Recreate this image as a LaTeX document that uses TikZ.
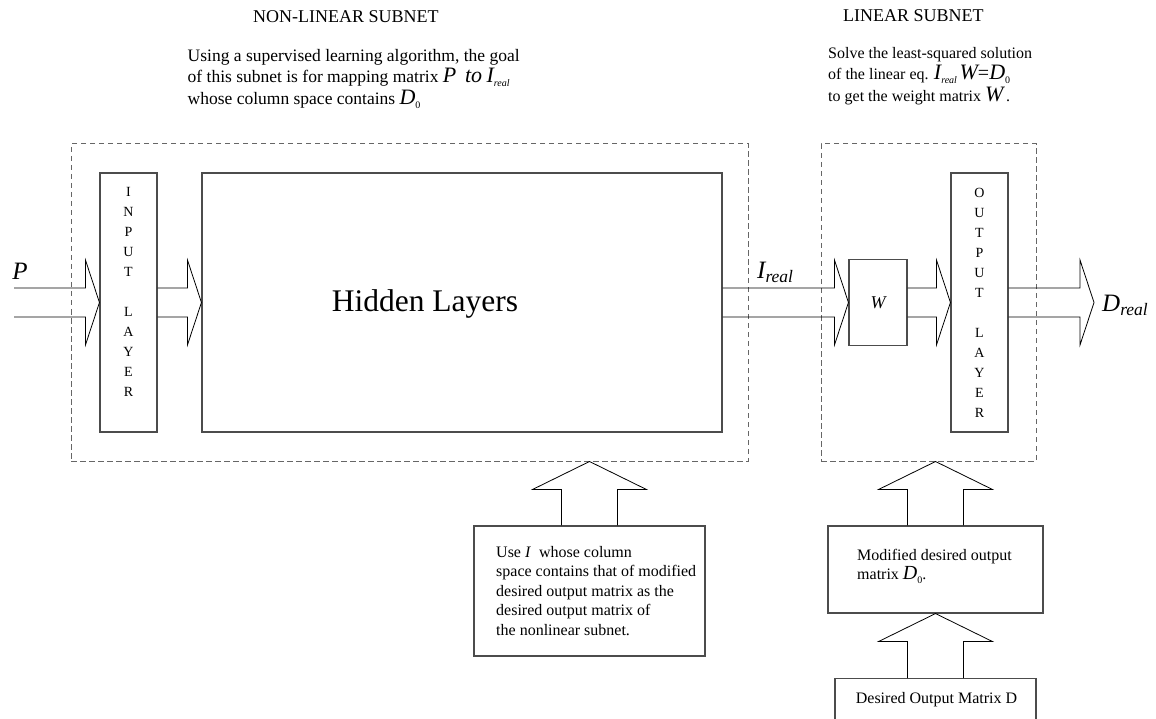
\documentclass[tikz,border=0pt]{standalone}
\usepackage{fontspec}
\setmainfont{Liberation Serif}
\usetikzlibrary{calc,positioning}

\tikzset{
  box/.style={draw=black!70, line width=1.1pt, inner sep=0pt},
  subnet/.style={draw=black!60, line width=1pt, dash pattern=on 5.5pt off 3.5pt, inner sep=0pt},
  fat/.style={line width=0.8pt},
  headline/.style={font=\fontsize{18}{22}\selectfont, inner sep=0pt},
  desc/.style={font=\fontsize{17.5}{21.5}\selectfont, align=left, inner sep=0pt},
  letters/.style={font=\fontsize{14}{20}\selectfont, align=center},
  boxtext/.style={font=\fontsize{16}{19.5}\selectfont, align=left, inner sep=0pt},
  biglabel/.style={font=\fontsize{25}{25}\selectfont\itshape, inner sep=0pt},
}

\newcommand{\mv}[1]{{\fontsize{22}{22}\selectfont\itshape #1}}
\newcommand{\msub}[1]{\raisebox{-4pt}{\fontsize{10}{10}\selectfont #1}}
\newcommand{\lowsub}[1]{\textsubscript{#1}}

% wide arrow to the right, from #1 to the tip #2
\newcommand{\hblock}[2]{%
  \draw[fat] ($(#1)+(0,-14.5)$) -- ($(#2)+(-14,-14.5)$) -- ++(0,-28)
    -- (#2) -- ++(-14,42.5) -- ++(0,-28) -- ($(#1)+(0,14.5)$);}
% wide arrow upwards, from #1 to the tip #2
\newcommand{\vblock}[2]{%
  \draw[fat] ($(#1)+(-28,0)$) -- ($(#2)+(-28,28)$) -- ++(-29,0)
    -- (#2) -- ++(57,28) -- ++(-29,0) -- ($(#1)+(28,0)$);}

\begin{document}
\begin{tikzpicture}[x=1pt, y=-1pt]
  \useasboundingbox (0,0) rectangle (1156,719);
  \clip (0,0) rectangle (1156,719);

  % the two subnets
  \node[subnet, minimum width=677pt, minimum height=317pt] (nlnet) at (409.5,302.5) {};
  \node[subnet, minimum width=215pt, minimum height=317pt] (lnet) at (928.5,302.5) {};

  \node[headline, anchor=base west] (nltitle) at (253,23) {NON-LINEAR SUBNET};
  \node[headline, anchor=base west] (ltitle) at (843,22) {LINEAR SUBNET};

  \node[desc, anchor=north west] (nldesc) at (187.5,49) {Using a supervised learning algorithm, the goal\\
    of this subnet is for mapping matrix \mv{P}\ \ \mv{to} \mv{I}\msub{\itshape real}\\
    whose column space contains \mv{D}\msub{0}};
  \node[desc, font=\fontsize{16}{21.5}\selectfont, anchor=north west] (ldesc) at (828,47) {Solve the least-squared solution\\
    of the linear eq. \mv{I}\msub{\itshape real}\,\mv{W}{\fontsize{20}{20}\selectfont=}\mv{D}\msub{0}\\
    to get the weight matrix \mv{W}\,.};

  % layers
  \node[box, minimum width=57pt, minimum height=259pt] (inlayer) at (128.5,302.5) {};
  \node[letters] (inletters) at (128.5,292) {I\\N\\P\\U\\T\\[20pt]L\\A\\Y\\E\\R};
  \node[box, minimum width=520pt, minimum height=259pt] (hidden) at (462,302.5) {};
  \node[font=\fontsize{31.5}{36}\selectfont, anchor=base] (hiddentxt) at (425,312) {Hidden Layers};
  \node[box, minimum width=58pt, minimum height=86pt, font=\fontsize{18}{18}\selectfont\itshape] (wbox) at (878,302.5) {W};
  \node[box, letters, minimum width=57pt, minimum height=259pt] (outlayer) at (979.5,302.5) {O\\U\\T\\P\\U\\T\\[20pt]L\\A\\Y\\E\\R};

  \node[biglabel] (plabel) at (20,271) {P};
  \node[biglabel, anchor=base west] (ilabel) at (757,279) {I\lowsub{real}};
  \node[biglabel, anchor=base west] (dlabel) at (1102,312) {D\lowsub{real}};

  \coordinate (pstart) at (14,302.5);
  \coordinate (dtip) at (1094,302.5);

  \hblock{pstart}{inlayer.west}
  \hblock{inlayer.east}{hidden.west}
  \hblock{hidden.east}{wbox.west}
  \hblock{wbox.east}{outlayer.west}
  \hblock{outlayer.east}{dtip}

  % desired outputs
  \node[box, minimum width=231pt, minimum height=130pt] (usebox) at (589.5,591) {};
  \node[boxtext, anchor=north west] (usetxt) at (496,546) {Use \textit{I}\ \ whose column\\
    space contains that of modified\\desired output matrix as the\\desired output matrix of\\the nonlinear subnet.};
  \node[box, minimum width=215pt, minimum height=87pt] (modbox) at (935.5,569.5) {};
  \node[boxtext, anchor=north west] (modtxt) at (857,549) {Modified desired output\\
    matrix {\fontsize{20}{20}\selectfont\itshape D}\msub{0}.};
  \node[box, minimum width=201pt, minimum height=60pt, anchor=north] (desbox) at (935.5,678) {};
  \node[boxtext, anchor=base] (destxt) at (936.5,703) {Desired Output Matrix D};

  \coordinate (usetip) at (usebox.north |- nlnet.south);
  \coordinate (modtip) at (modbox.north |- lnet.south);
  \vblock{usebox.north}{usetip}
  \vblock{modbox.north}{modtip}
  \vblock{desbox.north}{modbox.south}
\end{tikzpicture}
\end{document}
